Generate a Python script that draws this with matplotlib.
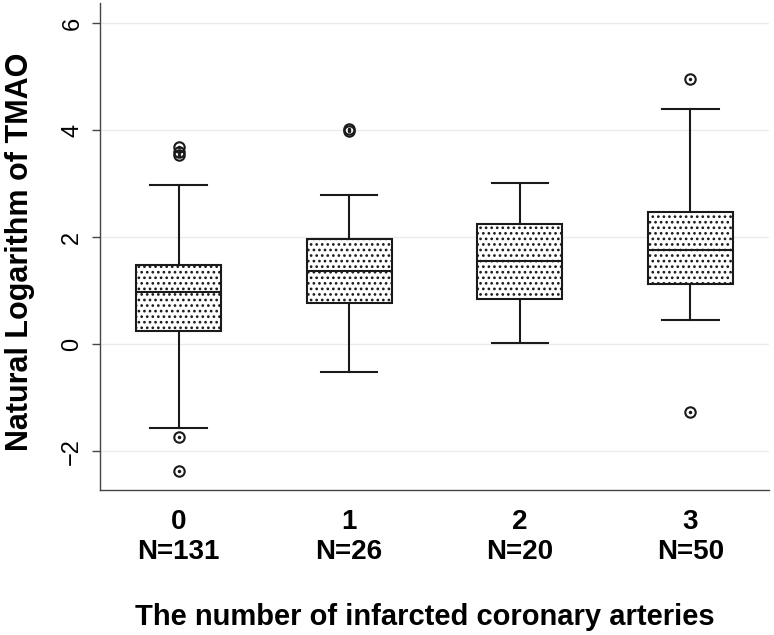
import matplotlib
matplotlib.use('Agg')
import matplotlib.pyplot as plt
import numpy as np

# values
groups = ['0', '1', '2', '3']
n_counts = [131, 26, 20, 50]
medians = [0.97, 1.37, 1.56, 1.76]
q1 = [0.24, 0.77, 0.85, 1.12]
q3 = [1.48, 1.97, 2.24, 2.47]
whisker_low = [-1.57, -0.51, 0.02, 0.46]
whisker_high = [2.98, 2.80, 3.02, 4.40]
outliers = [[3.69, 3.60, 3.54, -1.73, -2.36], [4.02, 3.98], [], [4.95, -1.27]]
y_ticks = [-2, 0, 2, 4, 6]

plt.rcParams['font.family'] = ['Liberation Sans', 'DejaVu Sans']
plt.rcParams['hatch.linewidth'] = 1.15

fig = plt.figure(figsize=(7.74, 6.35), dpi=100)
ax = fig.add_axes([100 / 774, 1 - 490 / 635, 669 / 774, 486.7 / 635])

stats = []
for i in range(len(groups)):
    stats.append(dict(med=medians[i], q1=q1[i], q3=q3[i],
                      whislo=whisker_low[i], whishi=whisker_high[i],
                      fliers=outliers[i],
                      label=f'{groups[i]}\nN={n_counts[i]}'))

pos = np.arange(len(groups))
edge = '#1a1a1a'
bp = ax.bxp(stats, positions=pos, widths=0.5, capwidths=0.33,
            patch_artist=True, showfliers=True,
            boxprops=dict(facecolor='white', edgecolor=edge, linewidth=1.5, hatch='...'),
            medianprops=dict(color=edge, linewidth=1.5),
            whiskerprops=dict(color=edge, linewidth=1.5),
            capprops=dict(color=edge, linewidth=1.5),
            flierprops=dict(marker='o', markersize=7.5, markerfacecolor='none',
                            markeredgecolor=edge, markeredgewidth=1.5))

# small dot inside each outlier circle
for i, vals in enumerate(outliers):
    if vals:
        ax.plot([pos[i]] * len(vals), vals, ls='none', marker='o', ms=1.5,
                color=edge, zorder=4)

ax.set_xlim(-0.46, 3.46)
ax.set_ylim(-2.723, 6.374)
ax.set_yticks(y_ticks)
ax.yaxis.grid(True, color='#ebebeb', lw=1)
ax.set_axisbelow(True)

for side in ['top', 'right']:
    ax.spines[side].set_visible(False)
for side in ['left', 'bottom']:
    ax.spines[side].set_color('#444444')
    ax.spines[side].set_linewidth(1)

ax.tick_params(axis='y', length=6, width=1, color='#444444', labelsize=17, pad=6)
for lbl in ax.get_yticklabels():
    lbl.set_rotation(90)
    lbl.set_va('center')
ax.tick_params(axis='x', length=0, labelsize=20, pad=14)
for lbl in ax.get_xticklabels():
    lbl.set_fontweight('bold')

fig.text(20 / 774, 1 - 251.5 / 635, 'Natural Logarithm of TMAO', rotation=90,
         ha='center', va='center', fontsize=22, fontweight='bold')
fig.text(424.5 / 774, 1 - 625 / 635, 'The number of infarcted coronary arteries',
         ha='center', va='baseline', fontsize=21, fontweight='bold')

fig.savefig('out.png', dpi=100)
